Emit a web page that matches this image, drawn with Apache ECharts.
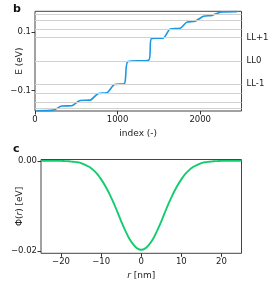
<!DOCTYPE html>
<html>
<head>
<meta charset="utf-8">
<script src="https://cdn.jsdelivr.net/npm/echarts@6/dist/echarts.min.js"></script>
<style>
html,body{margin:0;padding:0;background:#fff;}
#c{width:269px;height:282px;}
</style>
</head>
<body>
<div id="c"></div>
<script>
// Panel b: sorted eigenvalues (staircase)
const stairIndex = [20, 222, 324, 445, 545, 667, 767, 869, 961, 1082, 1125, 1375, 1410, 1555, 1636, 1758, 1839, 1939, 2040, 2142, 2263, 2445];
const stairEnergy = [-0.169, -0.167, -0.153, -0.152, -0.134, -0.133, -0.110, -0.108, -0.080, -0.077, -0.001, 0.003, 0.077, 0.079, 0.110, 0.112, 0.133, 0.136, 0.153, 0.156, 0.168, 0.169];
// Landau level reference lines (eV)
const llEnergies = [-0.156, -0.135, -0.110, -0.078, 0, 0.078, 0.110, 0.135, 0.156];
const llLabelValues = [0.078, 0, -0.078];
const llLabels = ['LL+1', 'LL0', 'LL-1'];
const bYTicks = [-0.1, 0.1];
const bXTicks = [0, 1000, 2000];

// Panel c: potential profile
const rValues = [-25,-24,-23,-22,-21,-20,-19,-18,-17,-16,-15,-14,-13,-12,-11,-10,-9,-8,-7,-6,-5,-4,-3,-2,-1,0,1,2,3,4,5,6,7,8,9,10,11,12,13,14,15,16,17,18,19,20,21,22,23,24,25];
const phiValues = [0,0,0,0,0,0,-0.00005,-0.0001,-0.0002,-0.0003,-0.0005,-0.0009,-0.0013,-0.0020,-0.0029,-0.0041,-0.0055,-0.0072,-0.0091,-0.0112,-0.0134,-0.0154,-0.0172,-0.0185,-0.0194,-0.0197,-0.0194,-0.0185,-0.0172,-0.0154,-0.0134,-0.0112,-0.0091,-0.0072,-0.0055,-0.0041,-0.0029,-0.0020,-0.0013,-0.0009,-0.0005,-0.0003,-0.0002,-0.0001,-0.00005,0,0,0,0,0,0];
const cYTicks = [-0.02, 0];
const cXTicks = [-20, -10, 0, 10, 20];

const FONT = 'DejaVu Sans';
const minus = s => String(s).replace('-', '\u2212');

const chart = echarts.init(document.getElementById('c'), null, {renderer: 'canvas'});
const tickStyle = {show: true, inside: false, length: 3.5, lineStyle: {color: '#333', width: 1}};
const labelBase = {color: '#222', fontFamily: FONT, fontSize: 8.5};
const noLine = {show: false, onZero: false};

chart.setOption({
  animation: false,
  backgroundColor: '#fff',
  title: [
    {text: 'b', left: 8, top: -1, textStyle: {fontFamily: FONT, fontWeight: 'bold', fontSize: 11, color: '#111'}},
    {text: 'c', left: 8, top: 139, textStyle: {fontFamily: FONT, fontWeight: 'bold', fontSize: 11, color: '#111'}}
  ],
  grid: [
    {left: 35, right: 27.5, top: 11.3, bottom: 171, show: true, borderColor: '#444', borderWidth: 1, backgroundColor: 'transparent', outerBoundsMode: 'none', containLabel: false},
    {left: 41, right: 27.5, top: 159.5, bottom: 28.7, show: true, borderColor: '#444', borderWidth: 1, backgroundColor: 'transparent', outerBoundsMode: 'none', containLabel: false}
  ],
  xAxis: [
    {type: 'value', gridIndex: 0, min: 0, max: 2500,
     name: 'index (-)', nameLocation: 'middle', nameGap: 18, nameMoveOverlap: false,
     nameTextStyle: {fontFamily: FONT, fontSize: 9, color: '#222'},
     axisLine: noLine, splitLine: {show: false},
     axisTick: Object.assign({customValues: bXTicks}, tickStyle),
     axisLabel: Object.assign({customValues: bXTicks, margin: 4, formatter: v => minus(v)}, labelBase)},
    {type: 'value', gridIndex: 1, min: -25, max: 25,
     name: '{i|r} [nm]', nameLocation: 'middle', nameGap: 18, nameMoveOverlap: false,
     nameTextStyle: {fontFamily: FONT, fontSize: 9, color: '#222', rich: {i: {fontStyle: 'italic', fontFamily: FONT, fontSize: 9, color: '#222'}}},
     axisLine: noLine, splitLine: {show: false},
     axisTick: Object.assign({customValues: cXTicks}, tickStyle),
     axisLabel: Object.assign({customValues: cXTicks, margin: 4, formatter: v => minus(v)}, labelBase)}
  ],
  yAxis: [
    {type: 'value', gridIndex: 0, min: -0.17, max: 0.17,
     name: 'E (eV)', nameLocation: 'middle', nameGap: 11, nameRotate: 90, nameMoveOverlap: false,
     nameTextStyle: {fontFamily: FONT, fontSize: 9, color: '#222'},
     axisLine: noLine, splitLine: {show: false},
     axisTick: Object.assign({customValues: bYTicks}, tickStyle),
     axisLabel: Object.assign({customValues: bYTicks, margin: 4, formatter: v => minus(v)}, labelBase)},
    {type: 'value', gridIndex: 0, position: 'right', min: -0.17, max: 0.17,
     axisLine: noLine, splitLine: {show: false}, axisTick: {show: false},
     axisLabel: Object.assign({customValues: llLabelValues, margin: 5,
       formatter: v => llLabels[llLabelValues.indexOf(v)] || ''}, labelBase)},
    {type: 'value', gridIndex: 1, min: -0.0205, max: 0.0003,
     name: '\u03A6({i|r}) [eV]', nameLocation: 'middle', nameGap: 17, nameRotate: 90, nameMoveOverlap: false,
     nameTextStyle: {fontFamily: FONT, fontSize: 9, color: '#222', rich: {i: {fontStyle: 'italic', fontFamily: FONT, fontSize: 9, color: '#222'}}},
     axisLine: noLine, splitLine: {show: false},
     axisTick: Object.assign({customValues: cYTicks}, tickStyle),
     axisLabel: Object.assign({customValues: cYTicks, margin: 4, formatter: v => minus(v.toFixed(2))}, labelBase)}
  ],
  series: [
    {type: 'line', xAxisIndex: 0, yAxisIndex: 0, data: [], silent: true, z: 1,
     markLine: {silent: true, symbol: 'none', label: {show: false},
       lineStyle: {color: '#d2d2d2', width: 1, type: 'solid'},
       data: llEnergies.map(e => ({yAxis: e}))}},
    {type: 'line', xAxisIndex: 0, yAxisIndex: 0, z: 3,
     data: stairIndex.map((x, i) => [x, stairEnergy[i]]),
     showSymbol: false, smooth: 0.25,
     lineStyle: {color: '#1b98e0', width: 1.6}},
    {type: 'line', xAxisIndex: 1, yAxisIndex: 2, z: 3,
     data: rValues.map((x, i) => [x, phiValues[i]]),
     showSymbol: false, smooth: 0.4,
     lineStyle: {color: '#12cc6e', width: 1.9}}
  ]
});
</script>
</body>
</html>
